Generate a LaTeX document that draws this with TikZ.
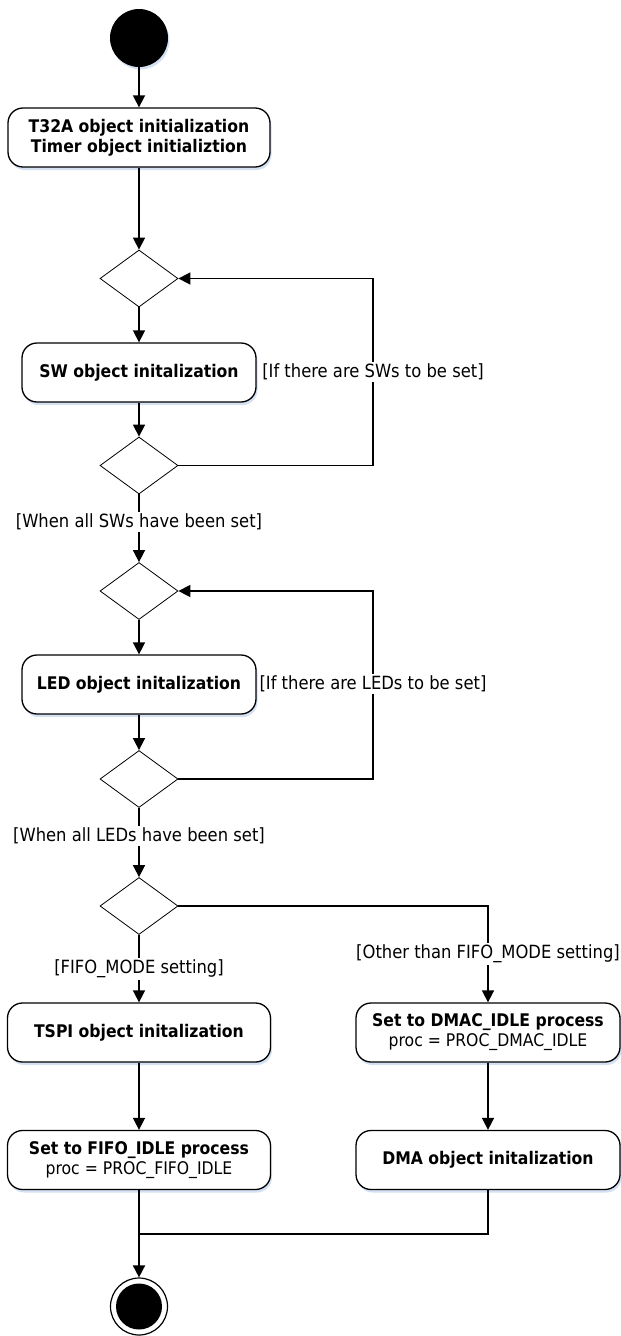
\documentclass[tikz,border=0pt]{standalone}
\usepackage{fontspec}
\setmainfont{DejaVu Sans Condensed}
\usetikzlibrary{shapes.geometric,arrows.meta,shadows}
\definecolor{shadowblue}{RGB}{212,225,243}
\begin{document}
\begin{tikzpicture}[x=1pt,y=-1pt,
  box/.style={draw, line width=1.3, rounded corners=15, minimum height=59, inner sep=2, align=center, fill=white,
    font=\bfseries\fontsize{17.4}{20}\selectfont,
    drop shadow={shadow xshift=1.5pt,shadow yshift=-3pt,fill=shadowblue,opacity=1}},
  dia/.style={diamond, draw, line width=0.8, minimum width=78, minimum height=57, inner sep=0, fill=white},
  guard/.style={fill=white, inner sep=1.5, font=\fontsize{18.2}{20}\selectfont},
  conn/.style={line width=1.6},
  arr/.style={conn, -{Triangle[width=12,length=12]}}]
\useasboundingbox (0,0) rectangle (621,1336);
% nodes
\node[circle, fill=black, minimum size=58, inner sep=0,
  drop shadow={shadow xshift=1.5pt,shadow yshift=-2.5pt,fill=shadowblue,opacity=1}] (start) at (139,38) {};
\node[box, minimum width=262] (b1) at (139,137.5) {T32A object initialization\\Timer object initializtion};
\node[dia] (d1) at (139,278.5) {};
\node[box, minimum width=234] (sw) at (139,372.5) {SW object initalization};
\node[dia] (d2) at (139,465.5) {};
\node[dia] (d3) at (139,591) {};
\node[box, minimum width=234] (led) at (139,684.5) {LED object initalization};
\node[dia] (d4) at (139,779) {};
\node[dia] (d5) at (139,906) {};
\node[box, minimum width=263] (tspi) at (139,1032.5) {TSPI object initalization};
\node[box, minimum width=264] (dmac) at (488,1032.5) {Set to DMAC\_IDLE process\\{\mdseries proc = PROC\_DMAC\_IDLE}};
\node[box, minimum width=263] (fifo) at (139,1160) {Set to FIFO\_IDLE process\\{\mdseries proc = PROC\_FIFO\_IDLE}};
\node[box, minimum width=264] (dma) at (488,1160) {DMA object initalization};
\node[circle, draw, line width=1.2, minimum size=57, inner sep=0] (end) at (139,1306.5) {};
\node[circle, fill=black, minimum size=46, inner sep=0] (endin) at (end) {};
\coordinate (lp1) at (373,465.5);
\coordinate (lp2) at (373,779);
\coordinate (merge) at (139,1234);
% connectors
\draw[arr] (start) -- (b1);
\draw[arr] (b1) -- (d1);
\draw[arr] (d1) -- (sw);
\draw[arr] (sw) -- (d2);
\draw[arr] (d2.east) -- (lp1) |- (d1.east);
\draw[arr] (d2) -- (d3);
\draw[arr] (d3) -- (led);
\draw[arr] (led) -- (d4);
\draw[arr] (d4.east) -- (lp2) |- (d3.east);
\draw[arr] (d4) -- (d5);
\draw[arr] (d5) -- (tspi);
\draw[arr] (d5.east) -| (dmac.north);
\draw[arr] (tspi) -- (fifo);
\draw[arr] (dmac) -- (dma);
\draw[conn] (dma.south) |- (merge);
\draw[arr] (fifo) -- (end);
% guard labels
\node[guard] (g1) at (373,372) {[If there are SWs to be set]};
\node[guard] (g2) at (139,522) {[When all SWs have been set]};
\node[guard] (g3) at (373,684) {[If there are LEDs to be set]};
\node[guard] (g4) at (139,836) {[When all LEDs have been set]};
\node[guard] (g5) at (139,969) {[FIFO\_MODE setting]};
\node[guard] (g6) at (488,954) {[Other than FIFO\_MODE setting]};
\end{tikzpicture}
\end{document}
